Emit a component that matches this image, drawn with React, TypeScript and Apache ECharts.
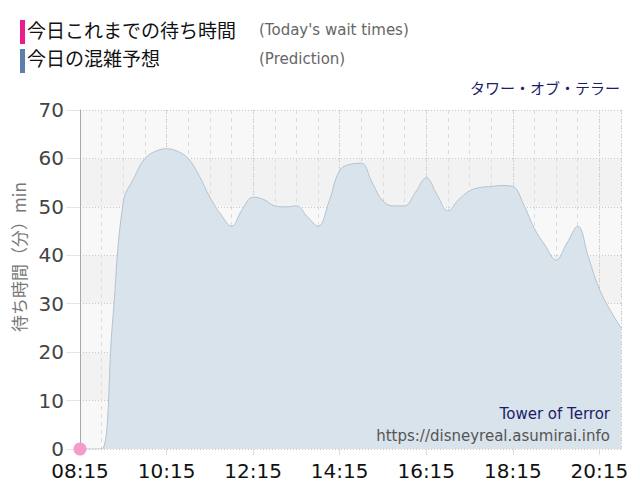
import React, { useEffect, useRef } from 'react'
import * as echarts from 'echarts'

// prediction, every 15 minutes from 08:15
const times = [
  '08:15', '08:30', '08:45', '09:00', '09:15', '09:30', '09:45', '10:00', '10:15', '10:30',
  '10:45', '11:00', '11:15', '11:30', '11:45', '12:00', '12:15', '12:30', '12:45', '13:00',
  '13:15', '13:30', '13:45', '14:00', '14:15', '14:30', '14:45', '15:00', '15:15', '15:30',
  '15:45', '16:00', '16:15', '16:30', '16:45', '17:00', '17:15', '17:30', '17:45', '18:00',
  '18:15', '18:30', '18:45', '19:00', '19:15', '19:30', '19:45', '20:00', '20:15', '20:30',
  '20:45'
]
const prediction = [
  0, 0, 0, 26, 51, 56, 60, 61.5, 62, 61.5,
  60, 56.5, 52, 48.5, 46, 49.5, 52, 51.5, 50.2, 50,
  50.2, 48, 46, 51, 57.5, 58.8, 59, 55, 51.2, 50.2,
  50.2, 53, 56, 52.5, 49.2, 51.5, 53.3, 54, 54.2, 54.4,
  54.2, 50.5, 45.5, 42, 39, 42.5, 46, 39.5, 33, 28.7,
  25
]
// today's actual wait times so far
const todayTimes = ['08:15']
const todayWaits = [0]

const yTicks = [0, 10, 20, 30, 40, 50, 60, 70]

const START = 8 * 60 + 15
const toMin = (t: string) => {
  const [h, m] = t.split(':').map(Number)
  return h * 60 + m - START
}
const fmt = (v: number) => {
  const t = v + START
  const h = Math.floor(t / 60)
  const m = t % 60
  return `${String(h).padStart(2, '0')}:${String(m).padStart(2, '0')}`
}

const FONT = '"DejaVu Sans", Verdana, sans-serif'
const JP = '"Noto Sans CJK JP", sans-serif'

export default function App() {
  const chartRef: any = useRef()

  useEffect(() => {
    const myChart = echarts.init(chartRef.current, null, { renderer: 'svg' })
    const option = {
      animation: false,
      grid: { left: 80, right: 19, top: 110, bottom: 51 },
      xAxis: [
        {
          type: 'value',
          min: 0,
          max: 750,
          interval: 30,
          axisLine: { show: false },
          axisTick: { show: false },
          axisLabel: { show: false },
          splitLine: { show: true, lineStyle: { color: '#dcdcdc', type: [4, 4], width: 1 } }
        },
        {
          type: 'value',
          position: 'bottom',
          min: 0,
          max: 750,
          interval: 120,
          axisLine: { show: false },
          axisTick: { show: true, length: 6, lineStyle: { color: '#dddddd' } },
          axisLabel: {
            color: '#111',
            fontFamily: FONT,
            fontSize: 20,
            margin: 12,
            showMaxLabel: false,
            formatter: (v: number) => fmt(v)
          },
          splitLine: { show: true, lineStyle: { color: '#c8c8c8', type: [1, 2], width: 1 } }
        }
      ],
      yAxis: {
        type: 'value',
        min: yTicks[0],
        max: yTicks[yTicks.length - 1],
        interval: 10,
        axisLine: { show: true, lineStyle: { color: '#a8a8a8' } },
        axisTick: { show: true, length: 14, lineStyle: { color: '#e4e4e4' } },
        axisLabel: { color: '#444', fontFamily: FONT, fontSize: 20, margin: 16 },
        splitLine: { show: true, lineStyle: { color: '#c8c8c8', type: [1, 2], width: 1 } },
        splitArea: { show: true, areaStyle: { color: ['#f8f8f8', '#f2f2f2'] } }
      },
      graphic: [
        { type: 'rect', left: 20, top: 20, z: 100, shape: { width: 5, height: 24 }, style: { fill: '#ec1c8e' } },
        { type: 'text', left: 27, top: 20, z: 100, style: { text: '今日これまでの待ち時間', font: `19px ${JP}`, fill: '#111' } },
        { type: 'text', left: 259, top: 22, z: 100, style: { text: "(Today's wait times)", font: `15px ${FONT}`, fill: '#666' } },
        { type: 'rect', left: 20, top: 49, z: 100, shape: { width: 5, height: 24 }, style: { fill: '#5b80ad' } },
        { type: 'text', left: 27, top: 48, z: 100, style: { text: '今日の混雑予想', font: `19px ${JP}`, fill: '#111' } },
        { type: 'text', left: 259, top: 51, z: 100, style: { text: '(Prediction)', font: `15px ${FONT}`, fill: '#666' } },
        { type: 'text', right: 20, top: 80, z: 100, style: { text: 'タワー・オブ・テラー', font: `15px ${JP}`, fill: '#1c1c6b' } },
        {
          type: 'text',
          x: 18,
          y: 257,
          z: 100,
          rotation: Math.PI / 2,
          style: {
            text: '待ち時間（分）min',
            font: `17px ${JP}`,
            fill: '#777',
            textAlign: 'center',
            textVerticalAlign: 'middle'
          }
        },
        { type: 'text', right: 30, top: 406, z: 100, style: { text: 'Tower of Terror', font: `15px ${FONT}`, fill: '#1c1c6b' } },
        { type: 'text', right: 30, top: 428, z: 100, style: { text: 'https://disneyreal.asumirai.info', font: `15px ${FONT}`, fill: '#555' } }
      ],
      series: [
        {
          type: 'line',
          xAxisIndex: 0,
          data: times.map((t, i) => [toMin(t), prediction[i]]),
          smooth: 0.4,
          showSymbol: false,
          lineStyle: { color: '#b5c2ce', width: 1 },
          areaStyle: { color: '#d9e3eb', opacity: 1 },
          z: 2
        },
        {
          type: 'line',
          xAxisIndex: 0,
          data: todayTimes.map((t, i) => [toMin(t), todayWaits[i]]),
          symbol: 'circle',
          symbolSize: 13,
          itemStyle: { color: '#f49bcd' },
          lineStyle: { color: '#ec1c8e', width: 2 },
          z: 5
        }
      ]
    }
    myChart.setOption(option)
    return () => {
      myChart.dispose()
    }
  }, [])

  return <div style={{ width: 640, height: 500, margin: -8 }} ref={chartRef} />
}
